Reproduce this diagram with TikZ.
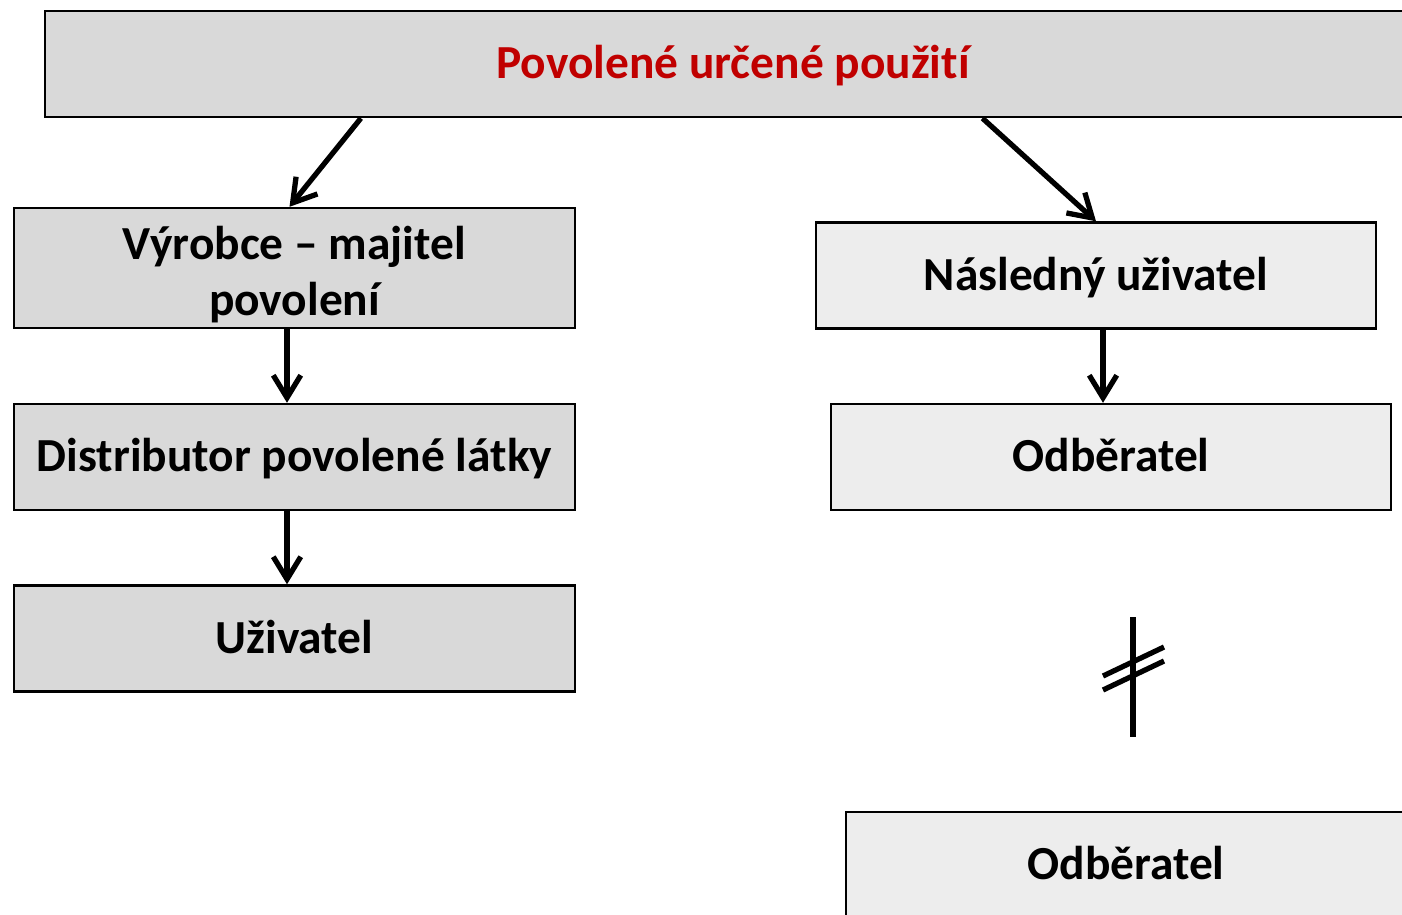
\documentclass[tikz,border=0pt]{standalone}
\usepackage{fontspec}
\setmainfont{Carlito}[Ligatures=NoCommon]
\usetikzlibrary{arrows.meta, positioning, calc}
\definecolor{BoxGray}{HTML}{D9D9D9}
\definecolor{BoxLight}{HTML}{EDEDED}
\definecolor{TitleRed}{HTML}{C00000}

\begin{document}
\begin{tikzpicture} [x=0.02cm,y=-0.02cm,
			every node/.style={draw,rectangle,line width=1.4pt,font=\fontsize{27}{31}\selectfont\bfseries,inner sep=0pt},
			oneline/.style={text height=24pt,text depth=7.5pt},
			title/.style={oneline,fill=BoxGray,text=TitleRed,minimum width=27.52cm,minimum height=2.12cm},
			leftbox/.style={fill=BoxGray,minimum width=11.22cm,minimum height=2.12cm},
			rightbox/.style={oneline,fill=BoxLight,minimum width=11.2cm,minimum height=2.12cm},
			flow/.style={draw,line width=3pt,-{Straight Barb[length=4.5mm,width=5.5mm,line width=3pt]}}
		]
			\useasboundingbox (0,0) rectangle (1402,914);
			\node at (733,64) [title] (povoleni) {Povolené určené použití};
			\node at (294.5,268) [leftbox,align=center,minimum height=2.4cm,text height=57pt,text depth=3pt,font=\fontsize{27}{32}\selectfont\bfseries] (vyrobce) {Výrobce – majitel \\ povolení};
			\node at (294.5,457) [leftbox,oneline] (distributor) {Distributor povolené látky};
			\node at (294.5,638.5) [leftbox,oneline] (uzivatel) {Uživatel};
			\node at (1096,275.5) [rightbox] (nasledny) {Následný uživatel};
			\node at (1111,457) [rightbox] (odberatel) {Odběratel};
			\node at (1126,865) [rightbox] (odberateldva) {Odběratel};
			\path[flow] ($(povoleni.south west)!0.23!(povoleni.south east)$) -- ([xshift=-1mm]vyrobce.north);
			\path[flow] ($(povoleni.south west)!0.681!(povoleni.south east)$) -- (nasledny.north);
			\path[flow] ([xshift=-1.5mm]vyrobce.south) -- ([xshift=-1.5mm]distributor.north);
			\path[flow] ([xshift=-1.5mm]distributor.south) -- ([xshift=-1.5mm]uzivatel.north);
			\path[flow] ([xshift=1.4mm]nasledny.south) -- ([xshift=1.4mm]nasledny.south |- odberatel.north);
			% not equal
			\draw[line width=3pt] (1133,617) -- (1133,737);
			\draw[line width=3pt] (1103,676) -- (1164,647);
			\draw[line width=3pt] (1103,690) -- (1164,661);
		\end{tikzpicture}
\end{document}
